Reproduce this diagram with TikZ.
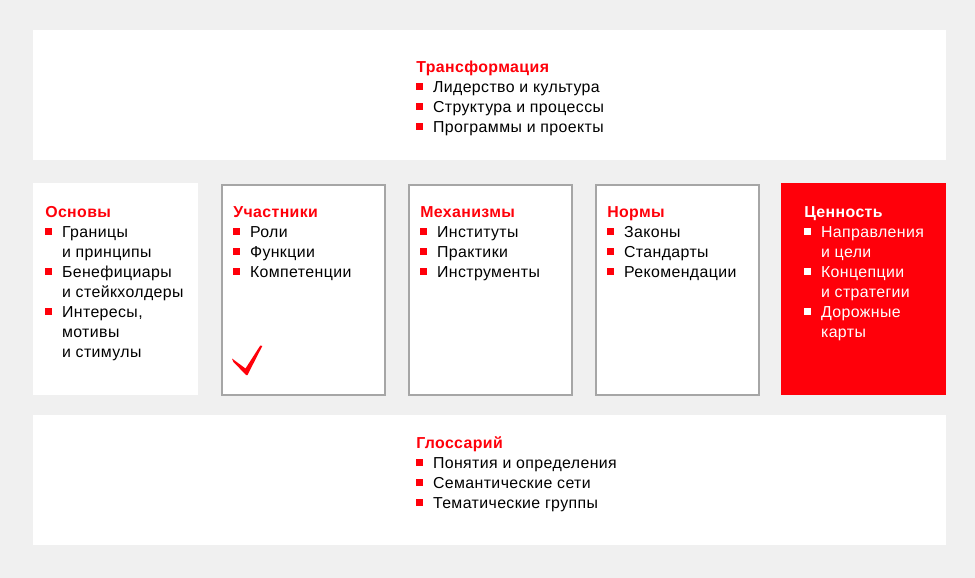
\documentclass[tikz,border=0pt]{standalone}
\usepackage{fontspec}
\setmainfont[LetterSpace=2.5]{Liberation Sans}
\usepackage{xcolor}
\definecolor{bggray}{HTML}{F0F0F0}
\definecolor{bred}{HTML}{FF000A}
\definecolor{framegray}{HTML}{A6A6A6}
\newcommand{\bul}[1][bred]{\makebox[12.6pt][l]{\textcolor{#1}{\rule[1.7pt]{5.2pt}{5.2pt}}}}
\newcommand{\ttl}[2]{\multicolumn{2}{@{}l@{}}{\textcolor{#1}{\bfseries #2}}}

\begin{document}
\begin{tikzpicture}[x=0.75pt,y=-0.75pt,
	panel/.style={fill=white,inner sep=0,anchor=north west,
		minimum width=123.75pt,minimum height=159pt},
	framed/.style={panel,draw=framegray,line width=1.5pt,
		minimum width=122.25pt,minimum height=157.5pt},
	wide/.style={fill=white,inner sep=0,anchor=north west,
		minimum width=684.75pt,minimum height=97.5pt},
	txt/.style={anchor=base west,inner sep=0,
		font=\fontsize{11.9}{15}\selectfont}]

	\fill[bggray] (0,0) rectangle (975,578);
	\useasboundingbox (0,0) rectangle (975,578);

	\node[wide] (transf) at (33,30) {};
	\node[panel] (osnovy) at (33,183) {};
	\node[framed] (uchast) at (221,184) {};
	\node[framed] (mekh) at (408,184) {};
	\node[framed] (normy) at (595,184) {};
	\node[panel,fill=bred] (cennost) at (781,183) {};
	\node[wide] (gloss) at (33,415) {};

	\node[txt] (transft) at (416,72) {\begin{tabular}[t]{@{}l@{}l@{}}
		\ttl{bred}{Трансформация}\\
		\bul & Лидерство и культура\\
		\bul & Структура и процессы\\
		\bul & Программы и проекты
	\end{tabular}};

	\node[txt] (osnovyt) at (45,217) {\begin{tabular}[t]{@{}l@{}l@{}}
		\ttl{bred}{Основы}\\
		\bul & Границы\\
		& и принципы\\
		\bul & Бенефициары\\
		& и стейкхолдеры\\
		\bul & Интересы,\\
		& мотивы\\
		& и стимулы
	\end{tabular}};

	\node[txt] (uchastt) at (233,217) {\begin{tabular}[t]{@{}l@{}l@{}}
		\ttl{bred}{Участники}\\
		\bul & Роли\\
		\bul & Функции\\
		\bul & Компетенции
	\end{tabular}};

	\node[txt] (mekht) at (420,217) {\begin{tabular}[t]{@{}l@{}l@{}}
		\ttl{bred}{Механизмы}\\
		\bul & Институты\\
		\bul & Практики\\
		\bul & Инструменты
	\end{tabular}};

	\node[txt] (normyt) at (607,217) {\begin{tabular}[t]{@{}l@{}l@{}}
		\ttl{bred}{Нормы}\\
		\bul & Законы\\
		\bul & Стандарты\\
		\bul & Рекомендации
	\end{tabular}};

	\node[txt,text=white] (cennostt) at (804,217) {\begin{tabular}[t]{@{}l@{}l@{}}
		\ttl{white}{Ценность}\\
		\bul[white] & Направления\\
		& и цели\\
		\bul[white] & Концепции\\
		& и стратегии\\
		\bul[white] & Дорожные\\
		& карты
	\end{tabular}};

	\node[txt] (glosst) at (416,448) {\begin{tabular}[t]{@{}l@{}l@{}}
		\ttl{bred}{Глоссарий}\\
		\bul & Понятия и определения\\
		\bul & Семантические сети\\
		\bul & Тематические группы
	\end{tabular}};

	\fill[bred] (232,358.5) -- (245.5,368.5) -- (260.3,345.5) -- (262.3,346)
		-- (247.5,375) -- (246,375) -- (233.3,361.8) -- cycle;

\end{tikzpicture}
\end{document}
